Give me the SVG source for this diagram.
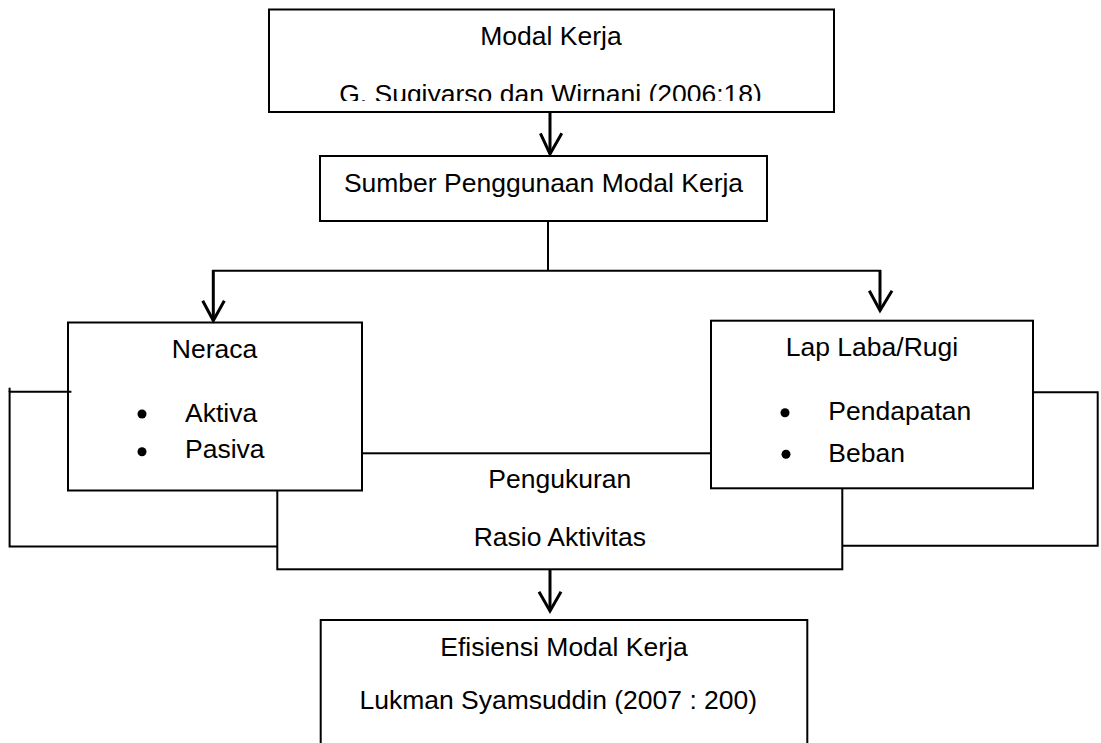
<svg xmlns="http://www.w3.org/2000/svg" width="1101" height="743" viewBox="0 0 1101 743">
  <style>
    .box { fill: #fff; stroke: #000; stroke-width: 2; }
    .t { font-family: "Liberation Sans", Arial, sans-serif; font-size: 26.5px; fill: #000; }
    .m { text-anchor: middle; }
    .ln { fill: none; stroke: #000; stroke-width: 2; }
    .ar { fill: none; stroke: #000; stroke-width: 3; }
  </style>
  <defs>
    <clipPath id="clipTop">
      <rect x="269" y="9" width="565" height="92"/>
    </clipPath>
  </defs>
  <rect width="1101" height="743" fill="#fff"/>

  <g id="node-modal-kerja">
    <rect class="box" x="269" y="9.5" width="565" height="102.5"/>
    <text class="t m" x="551" y="45">Modal Kerja</text>
    <text class="t m" x="550.5" y="103" clip-path="url(#clipTop)">G. Sugiyarso dan Wirnani (2006:18)</text>
  </g>

  <g id="node-sumber">
    <rect class="box" x="320" y="156" width="447" height="65"/>
    <text class="t m" x="543.5" y="191.7">Sumber Penggunaan Modal Kerja</text>
  </g>

  <g id="node-pengukuran">
    <rect class="box" x="277.3" y="453.3" width="565" height="116"/>
    <text class="t m" x="559.8" y="488.3">Pengukuran</text>
    <text class="t m" x="559.8" y="546">Rasio Aktivitas</text>
  </g>

  <g id="node-neraca">
    <rect class="box" x="68" y="322.5" width="294" height="168"/>
    <text class="t m" x="214.5" y="357.7">Neraca</text>
    <circle cx="142" cy="414" r="4.5" fill="#000"/>
    <text class="t" x="185" y="421.7">Aktiva</text>
    <circle cx="142" cy="451.7" r="4.5" fill="#000"/>
    <text class="t" x="185" y="458.3">Pasiva</text>
  </g>

  <g id="node-laba-rugi">
    <rect class="box" x="711" y="320.7" width="322" height="167.6"/>
    <text class="t m" x="872" y="356">Lap Laba/Rugi</text>
    <circle cx="785" cy="412.7" r="4.5" fill="#000"/>
    <text class="t" x="828.3" y="420">Pendapatan</text>
    <circle cx="786" cy="454.3" r="4.5" fill="#000"/>
    <text class="t" x="828.3" y="462.3">Beban</text>
  </g>

  <g id="node-efisiensi">
    <rect class="box" x="320.7" y="620" width="486.6" height="140"/>
    <text class="t m" x="564" y="656">Efisiensi Modal Kerja</text>
    <text class="t m" x="558.3" y="709.3">Lukman Syamsuddin (2007 : 200)</text>
  </g>

  <g id="connectors">
    <!-- top to sumber -->
    <line class="ar" x1="550" y1="112" x2="550" y2="154"/>
    <polyline class="ar" points="540.4,133.3 550,154 561.8,133.3"/>
    <!-- sumber split -->
    <line class="ln" x1="548" y1="221" x2="548" y2="270.7"/>
    <line class="ln" x1="212.3" y1="270.7" x2="881" y2="270.7"/>
    <line class="ar" x1="213.3" y1="270" x2="213.3" y2="320.5"/>
    <polyline class="ar" points="202.7,300.7 213.3,320.5 224.3,300.7"/>
    <line class="ar" x1="880" y1="270" x2="880" y2="310.5"/>
    <polyline class="ar" points="869.3,290.7 880,310.5 892,290.7"/>
    <!-- feedback left -->
    <polyline class="ln" points="71.4,391.7 9.6,391.7 9.6,546.5 277.3,546.5"/>
    <line class="ln" x1="9.6" y1="387.7" x2="9.6" y2="392"/>
    <!-- feedback right -->
    <polyline class="ln" points="1033,392.3 1097.7,392.3 1097.7,545.7 842.3,545.7"/>
    <!-- pengukuran to efisiensi -->
    <line class="ar" x1="550" y1="570" x2="550" y2="611"/>
    <polyline class="ar" points="539,591.7 550,611 561,591.7"/>
  </g>
</svg>
